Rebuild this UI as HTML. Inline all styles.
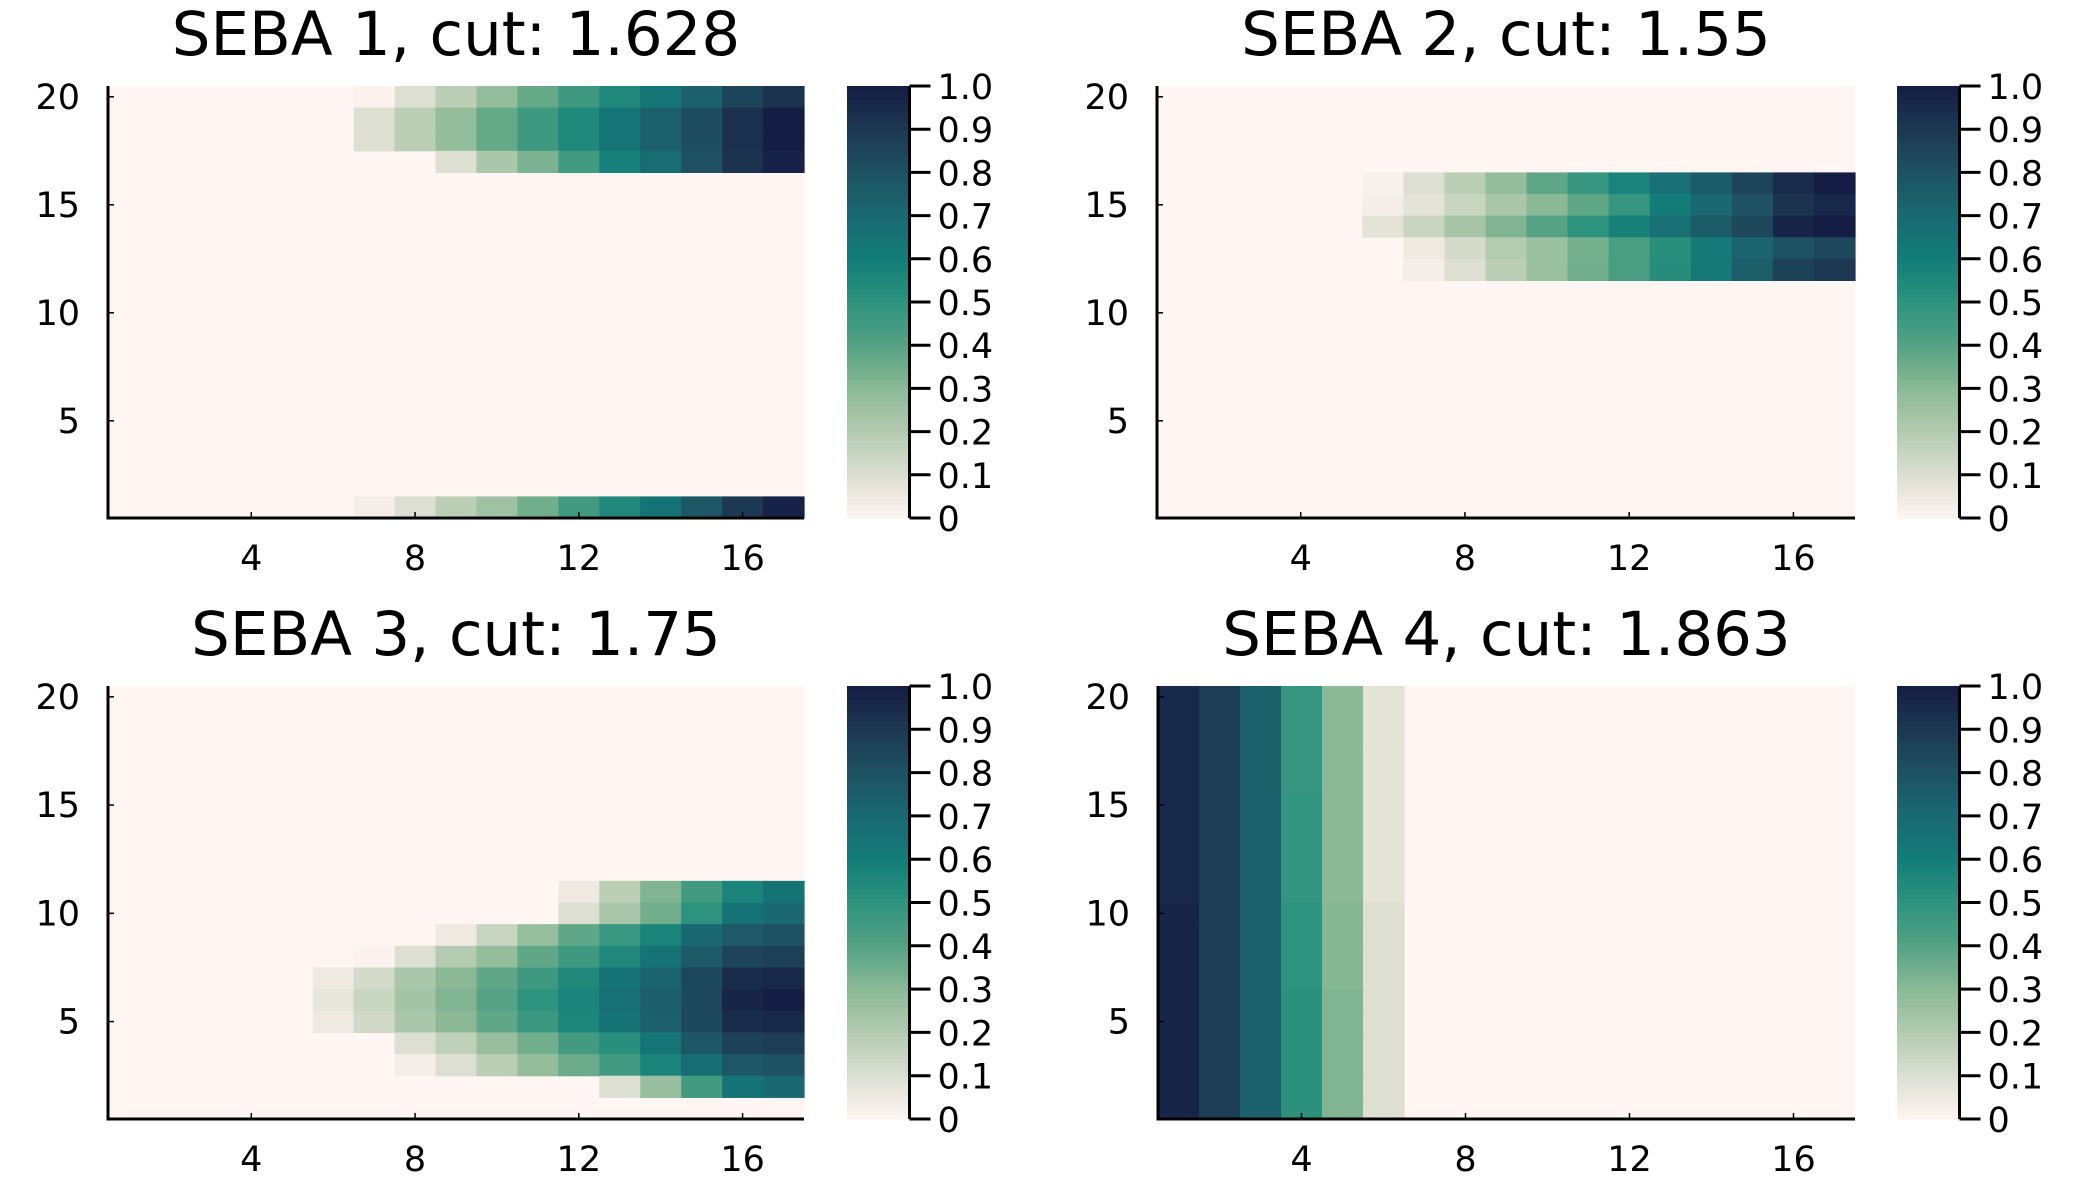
<!DOCTYPE html>
<html><head><meta charset="utf-8">
<style>
html,body{margin:0;padding:0;background:#fff;}
svg{display:block;font-family:"DejaVu Sans","Liberation Sans",sans-serif;}
</style></head>
<body>
<svg id="fig" width="2100" height="1200" viewBox="0 0 2100 1200" xmlns="http://www.w3.org/2000/svg"></svg>
<script>
// ---- data: each row entry = [y, firstColumn, values...]
const panelTitles = ["SEBA 1, cut: 1.628","SEBA 2, cut: 1.55","SEBA 3, cut: 1.75","SEBA 4, cut: 1.863"];
const xTicks = [4,8,12,16];
const yTicks = [5,10,15,20];
const cbTicks = [0,0.1,0.2,0.3,0.4,0.5,0.6,0.7,0.8,0.9,1.0];
const cbTickLabels = ["0","0.1","0.2","0.3","0.4","0.5","0.6","0.7","0.8","0.9","1.0"];
const seba1 = [
 [20,7, 0.01,0.1,0.18,0.28,0.37,0.46,0.55,0.64,0.74,0.85,0.92],
 [19,7, 0.1,0.18,0.28,0.37,0.46,0.55,0.64,0.74,0.82,0.93,1.0],
 [18,7, 0.1,0.18,0.28,0.37,0.46,0.55,0.64,0.74,0.82,0.93,1.0],
 [17,9, 0.1,0.22,0.33,0.45,0.58,0.68,0.8,0.92,0.98],
 [1,7, 0.03,0.1,0.18,0.25,0.35,0.45,0.55,0.65,0.78,0.9,0.98]
];
const seba2 = [
 [16,6, 0.02,0.1,0.18,0.28,0.38,0.48,0.57,0.67,0.76,0.85,0.95,1.0],
 [15,6, 0.03,0.08,0.15,0.22,0.3,0.38,0.48,0.6,0.7,0.8,0.92,0.96],
 [14,6, 0.08,0.15,0.23,0.32,0.4,0.5,0.58,0.67,0.76,0.84,0.97,1.0],
 [13,7, 0.05,0.12,0.2,0.26,0.34,0.43,0.52,0.62,0.72,0.8,0.84],
 [12,7, 0.03,0.1,0.18,0.26,0.35,0.43,0.53,0.62,0.75,0.86,0.9]
];
const seba3 = [
 [11,12, 0.05,0.18,0.32,0.45,0.57,0.65],
 [10,12, 0.1,0.22,0.35,0.5,0.65,0.7],
 [9,9, 0.05,0.15,0.27,0.38,0.47,0.57,0.7,0.77,0.8],
 [8,7, 0.01,0.1,0.2,0.28,0.38,0.46,0.55,0.65,0.77,0.85,0.87],
 [7,6, 0.05,0.12,0.22,0.3,0.38,0.46,0.55,0.65,0.72,0.84,0.95,0.96],
 [6,6, 0.07,0.15,0.24,0.32,0.4,0.5,0.57,0.66,0.75,0.84,0.97,1.0],
 [5,6, 0.05,0.13,0.22,0.3,0.38,0.47,0.56,0.65,0.74,0.84,0.95,0.96],
 [4,8, 0.1,0.17,0.27,0.35,0.45,0.52,0.64,0.78,0.86,0.88],
 [3,8, 0.03,0.1,0.18,0.28,0.36,0.45,0.57,0.68,0.78,0.8],
 [2,13, 0.1,0.27,0.45,0.65,0.7]
];
const seba4 = [
 [20,1, 0.96,0.88,0.74,0.48,0.3,0.08],[19,1, 0.96,0.88,0.74,0.48,0.3,0.08],
 [18,1, 0.96,0.88,0.74,0.48,0.3,0.08],[17,1, 0.96,0.88,0.74,0.48,0.3,0.08],
 [16,1, 0.96,0.88,0.74,0.48,0.3,0.08],[15,1, 0.96,0.88,0.74,0.49,0.3,0.08],
 [14,1, 0.96,0.88,0.74,0.49,0.3,0.08],[13,1, 0.96,0.88,0.74,0.49,0.3,0.08],
 [12,1, 0.96,0.88,0.74,0.49,0.3,0.08],[11,1, 0.96,0.88,0.74,0.49,0.3,0.08],
 [10,1, 0.97,0.88,0.74,0.5,0.31,0.1],[9,1, 0.97,0.88,0.74,0.5,0.31,0.1],
 [8,1, 0.97,0.88,0.74,0.5,0.31,0.1],[7,1, 0.97,0.88,0.74,0.5,0.31,0.1],
 [6,1, 0.97,0.88,0.74,0.51,0.32,0.1],[5,1, 0.97,0.88,0.74,0.51,0.32,0.1],
 [4,1, 0.97,0.88,0.74,0.51,0.32,0.1],[3,1, 0.97,0.88,0.74,0.51,0.32,0.1],
 [2,1, 0.97,0.88,0.74,0.51,0.32,0.1],[1,1, 0.97,0.88,0.74,0.51,0.32,0.1]
];
const panelData = [seba1, seba2, seba3, seba4];

// ---- colormap (tempo-like)
const cmapStops = ["#fff5f2","#dcdfd2","#b3cbb0","#8bb996","#55a284","#2e937e","#127d78","#1a6972","#1e5262","#1c3852","#151d44"];
function hex2rgb(h){return [parseInt(h.substr(1,2),16),parseInt(h.substr(3,2),16),parseInt(h.substr(5,2),16)];}
function cmap(v){
  v=Math.max(0,Math.min(1,v));
  const t=v*10, i=Math.min(9,Math.floor(t)), f=t-i;
  const a=hex2rgb(cmapStops[i]), b=hex2rgb(cmapStops[i+1]);
  return "rgb("+a.map((c,k)=>Math.round(c+(b[k]-c)*f)).join(",")+")";
}
const NS="http://www.w3.org/2000/svg";
const svg=document.getElementById('fig');
function mk(tag,attrs,parent){const e=document.createElementNS(NS,tag);for(const k in attrs)e.setAttribute(k,attrs[k]);(parent||svg).appendChild(e);return e;}

const layouts=[
 {L:108,R:804,T:86,B:518,cbx:847,titleY:55},
 {L:1157,R:1855,T:86,B:518,cbx:1897,titleY:55},
 {L:108,R:804,T:686,B:1119,cbx:847,titleY:655},
 {L:1158,R:1855,T:686,B:1119,cbx:1897,titleY:655}
];
layouts.forEach((p,pi)=>{
  const g=mk('g',{});
  
  
  const xs=v=>p.L+(v-0.5)*(p.R-p.L)/17;
  const ys=v=>p.B-(v-0.5)*(p.B-p.T)/20;
  const t=mk('text',{x:(p.L+p.R)/2,y:p.titleY,'text-anchor':'middle','font-size':61,fill:'#000'},g);
  t.textContent=panelTitles[pi];
  
  
  const bg=mk('rect',{x:p.L,y:p.T,width:p.R-p.L,height:p.B-p.T,fill:cmap(0)},g);
  
  
  panelData[pi].forEach(row=>{
    const y=row[0], c0=row[1];
    for(let k=2;k<row.length;k++){
      const col=c0+k-2;
      const x0=xs(col-0.5), x1=xs(col+0.5), y0=ys(y+0.5), y1=ys(y-0.5);
      const r=mk('rect',{x:x0,y:y0,width:x1-x0+0.6,height:y1-y0+0.6,fill:cmap(row[k])},g);
      
      
    }
  });
  mk('line',{x1:p.L,y1:p.T,x2:p.L,y2:p.B+1.5,stroke:'#000','stroke-width':3},g);
  mk('line',{x1:p.L-1.5,y1:p.B,x2:p.R,y2:p.B,stroke:'#000','stroke-width':3},g);
  xTicks.forEach(v=>{
    mk('line',{x1:xs(v),y1:p.B,x2:xs(v),y2:p.B-6,stroke:'#000','stroke-width':1.5},g);
    const tx=mk('text',{x:xs(v),y:p.B+52,'text-anchor':'middle','font-size':35},g);
    tx.textContent=v;
    
    
  });
  yTicks.forEach(v=>{
    mk('line',{x1:p.L,y1:ys(v),x2:p.L+6,y2:ys(v),stroke:'#000','stroke-width':1.5},g);
    const ty=mk('text',{x:p.L-28,y:ys(v)+12,'text-anchor':'end','font-size':35},g);
    ty.textContent=v;
    
    
  });
  // colorbar
  const cb=mk('g',{},g);
  
  
  const cw=61, ch=p.B-p.T, n=100;
  for(let i=0;i<n;i++){
    mk('rect',{x:p.cbx,y:p.B-(i+1)*ch/n,width:cw,height:ch/n+0.6,fill:cmap((i+0.5)/n)},cb);
  }
  const ax=p.cbx+cw+1.5;
  mk('line',{x1:ax,y1:p.T,x2:ax,y2:p.B,stroke:'#000','stroke-width':3},cb);
  cbTicks.forEach((v,i)=>{
    const yy=p.B-v*ch;
    mk('line',{x1:ax,y1:yy,x2:ax+21,y2:yy,stroke:'#000','stroke-width':3},cb);
    const tl=mk('text',{x:ax+28,y:yy+13,'font-size':35},cb);
    tl.textContent=cbTickLabels[i];
    
    
  });
});
</script>
</body></html>
